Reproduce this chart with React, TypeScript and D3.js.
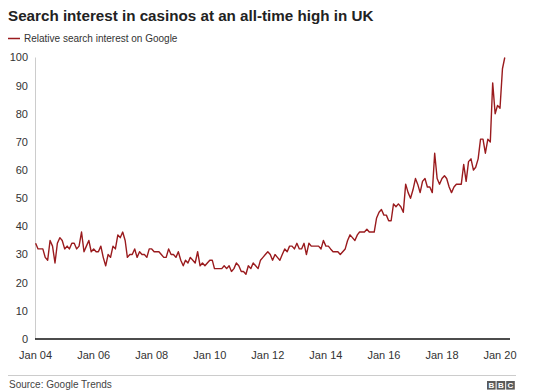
import React, { useRef, useEffect } from "react";
import * as d3 from "d3";

// monthly Google Trends index, Jan 2004 onwards
const startMonth = new Date(2004, 0, 1);
const searchInterest = [
    // 2004
    34, 32, 32, 32, 29, 28, 35, 33, 27, 34, 36, 35,
    // 2005
    32, 33, 32, 34, 34, 32, 33, 38, 31, 33, 35, 31,
    // 2006
    32, 31, 31, 33, 29, 26, 30, 29, 33, 32, 37, 36,
    // 2007
    38, 35, 29, 30, 30, 32, 29, 31, 30, 30, 29, 32,
    // 2008
    32, 31, 31, 31, 30, 29, 29, 32, 30, 30, 29, 31,
    // 2009
    28, 26, 28, 27, 29, 28, 27, 31, 26, 27, 26, 27,
    // 2010
    28, 28, 25, 25, 25, 25, 26, 25, 26, 24, 25, 27,
    // 2011
    26, 24, 24, 23, 26, 25, 27, 26, 25, 28, 29, 30,
    // 2012
    31, 30, 28, 30, 29, 28, 30, 32, 31, 33, 33, 32,
    // 2013
    34, 32, 32, 34, 30, 34, 33, 33, 33, 33, 32, 35,
    // 2014
    33, 33, 32, 31, 31, 31, 30, 31, 32, 35, 37, 36,
    // 2015
    35, 37, 38, 38, 38, 39, 38, 38, 38, 43, 45, 46,
    // 2016
    44, 44, 42, 42, 48, 47, 48, 47, 45, 55, 52, 50,
    // 2017
    53, 57, 55, 52, 56, 57, 54, 54, 52, 66, 57, 55,
    // 2018
    57, 58, 57, 54, 52, 54, 55, 55, 55, 62, 56, 63,
    // 2019
    64, 60, 61, 64, 71, 71, 66, 71, 70, 91, 80, 83,
    // 2020
    82, 96, 100,
];
const yTicks = [0, 10, 20, 30, 40, 50, 60, 70, 80, 90, 100];
const xTickYears = [2004, 2006, 2008, 2010, 2012, 2014, 2016, 2018, 2020];

const title = "Search interest in casinos at an all-time high in UK";
const legendLabel = "Relative search interest on Google";
const source = "Source: Google Trends";

const font = "'Liberation Sans', Arial, Helvetica, sans-serif";
const lineColor = "#9a1b1e";

const App = () => {
    const d3Ref = useRef(null);
    const width = 554;
    const height = 392;

    useEffect(() => {
        const root = d3.select(d3Ref.current);
        root.selectAll("*").remove();

        const svg = root.append("svg")
            .attr("width", width)
            .attr("height", height)
            .style("display", "block")
            .style("font-family", font);

        const xScale = d3.scaleTime()
            .domain([new Date(2004, 0, 1), new Date(2020, 0, 1)])
            .range([35.6, 500]);
        const yScale = d3.scaleLinear()
            .domain([0, 100])
            .range([339, 57.5]);

        const data = searchInterest.map((v, i) => ({
            date: d3.timeMonth.offset(startMonth, i),
            value: v
        }));

        // title + legend
        svg.append("text")
            .attr("x", 8)
            .attr("y", 21)
            .attr("font-size", 15.2)
            .attr("font-weight", "bold")
            .attr("fill", "#222")
            .text(title);

        svg.append("line")
            .attr("x1", 8).attr("x2", 20)
            .attr("y1", 38.5).attr("y2", 38.5)
            .attr("stroke", lineColor)
            .attr("stroke-width", 1.5);
        svg.append("text")
            .attr("x", 24)
            .attr("y", 42)
            .attr("font-size", 10)
            .attr("fill", "#333")
            .text(legendLabel);

        // y axis
        svg.append("line")
            .attr("x1", 35.5).attr("x2", 35.5)
            .attr("y1", yScale(100)).attr("y2", yScale(0))
            .attr("stroke", "#ccc")
            .attr("stroke-width", 1);

        svg.append("g")
            .selectAll("text")
            .data(yTicks)
            .join("text")
            .attr("x", 28)
            .attr("y", d => yScale(d))
            .attr("dy", "0.35em")
            .attr("text-anchor", "end")
            .attr("font-size", 11)
            .attr("fill", "#333")
            .text(d => d);

        // x labels
        svg.append("g")
            .selectAll("text")
            .data(xTickYears)
            .join("text")
            .attr("x", d => xScale(new Date(d, 0, 1)))
            .attr("y", 359)
            .attr("text-anchor", "middle")
            .attr("font-size", 11)
            .attr("fill", "#333")
            .text(d => "Jan " + String(d).slice(2));

        const line = d3.line()
            .x(d => xScale(d.date))
            .y(d => yScale(d.value));

        svg.append("path")
            .datum(data)
            .attr("fill", "none")
            .attr("stroke", lineColor)
            .attr("stroke-width", 1.4)
            .attr("stroke-linejoin", "round")
            .attr("d", line);

        // baseline
        svg.append("line")
            .attr("x1", 35).attr("x2", 510)
            .attr("y1", yScale(0)).attr("y2", yScale(0))
            .attr("stroke", "#111")
            .attr("stroke-width", 1.6);

        // footer
        svg.append("line")
            .attr("x1", 8).attr("x2", 516)
            .attr("y1", 375.5).attr("y2", 375.5)
            .attr("stroke", "#ccc")
            .attr("stroke-width", 1);
        svg.append("text")
            .attr("x", 9)
            .attr("y", 388)
            .attr("font-size", 10)
            .attr("fill", "#444")
            .text(source);

        const logo = svg.append("g").attr("transform", "translate(487,381)");
        ["B", "B", "C"].forEach((ch, i) => {
            logo.append("rect")
                .attr("x", i * 9.6)
                .attr("y", 0)
                .attr("width", 8.6)
                .attr("height", 8.6)
                .attr("fill", "#5a5a5a");
            logo.append("text")
                .attr("x", i * 9.6 + 4.3)
                .attr("y", 7.4)
                .attr("text-anchor", "middle")
                .attr("font-size", 8)
                .attr("font-weight", "bold")
                .attr("fill", "#fff")
                .text(ch);
        });
    }, []);

    return <div ref={d3Ref} style={{ position: "absolute", left: 0, top: 0 }} />;
};

export default App;
